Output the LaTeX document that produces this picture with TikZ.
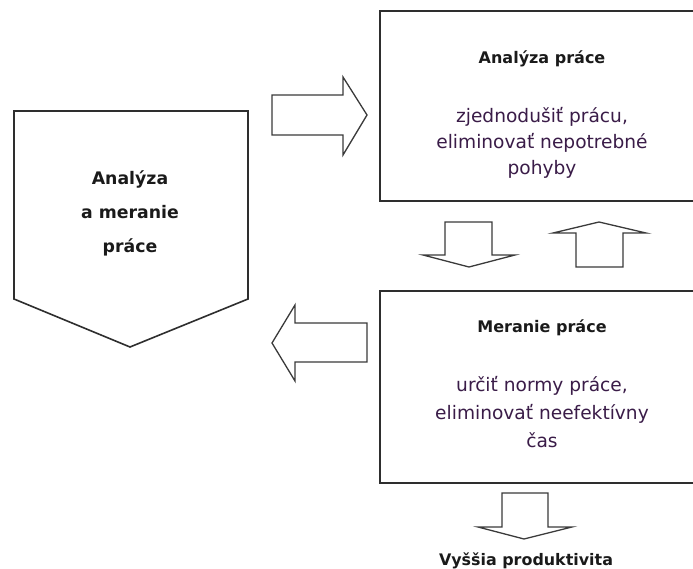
\documentclass[tikz,border=0pt]{standalone}
\usepackage{fontspec}
\setmainfont{DejaVu Sans}
\definecolor{edge}{HTML}{2E2E2E}
\definecolor{arrowedge}{HTML}{3A3A3A}
\definecolor{headtext}{HTML}{1A1A1A}
\definecolor{bodytext}{HTML}{3A1C48}
\tikzset{
  panel/.style={draw=edge, line width=1.6pt, fill=white},
  blockarrow/.style={draw=arrowedge, line width=1.3pt, fill=white, line join=miter},
  heading/.style={inner sep=0pt, text=headtext, font=\bfseries\fontsize{16}{20}\selectfont},
  body/.style={inner sep=0pt, align=center, text=bodytext},
}
\begin{document}
\begin{tikzpicture}[x=1pt, y=-1pt]
\useasboundingbox (0,0) rectangle (693,569);
\clip (0,0) rectangle (693,569);

% pentagon on the left
\draw[panel] (14,111) -- (248,111) -- (248,299) -- (130,347) -- (14,299) -- cycle;
\node[inner sep=0pt, align=center, text=headtext,
      font=\bfseries\fontsize{17.3}{34}\selectfont] (whole) at (130,213)
      {Analýza\\a meranie\\práce};

% upper box: analysis
\node[panel, minimum width=326pt, minimum height=190pt, anchor=north west] (anabox) at (379,10) {};
\node[heading] (anahead) at (542,59) {Analýza práce};
\node[body, font=\fontsize{18.6}{26}\selectfont] (anabody) at (542,143)
      {zjednodušiť prácu,\\eliminovať nepotrebné\\pohyby};

% lower box: measurement
\node[panel, minimum width=326pt, minimum height=192pt, anchor=north west] (merbox) at (379,290) {};
\node[heading] (merhead) at (542,328) {Meranie práce};
\node[body, font=\fontsize{18.6}{28}\selectfont] (merbody) at (542,412)
      {určiť normy práce,\\eliminovať neefektívny\\čas};

% block arrow pointing right
\draw[blockarrow] (272,95) -- (343,95) -- (343,77) -- (367,115) -- (343,155) -- (343,135) -- (272,135) -- cycle;
% block arrow pointing left
\draw[blockarrow] (367,323) -- (295,323) -- (295,305) -- (272,343) -- (295,381) -- (295,362) -- (367,362) -- cycle;
% block arrow pointing down
\draw[blockarrow] (445,222) -- (492,222) -- (492,255) -- (515,255) -- (469,267) -- (423,255) -- (445,255) -- cycle;
% block arrow pointing up
\draw[blockarrow] (576,267) -- (623,267) -- (623,233) -- (646,233) -- (599,222) -- (553,233) -- (576,233) -- cycle;
% block arrow towards the result
\draw[blockarrow] (502,493) -- (548,493) -- (548,527) -- (572,527) -- (524,539) -- (478,527) -- (502,527) -- cycle;

\node[inner sep=0pt, text=headtext, font=\bfseries\fontsize{15.9}{20}\selectfont] (result) at (526,561)
      {Vyššia produktivita};
\end{tikzpicture}
\end{document}
